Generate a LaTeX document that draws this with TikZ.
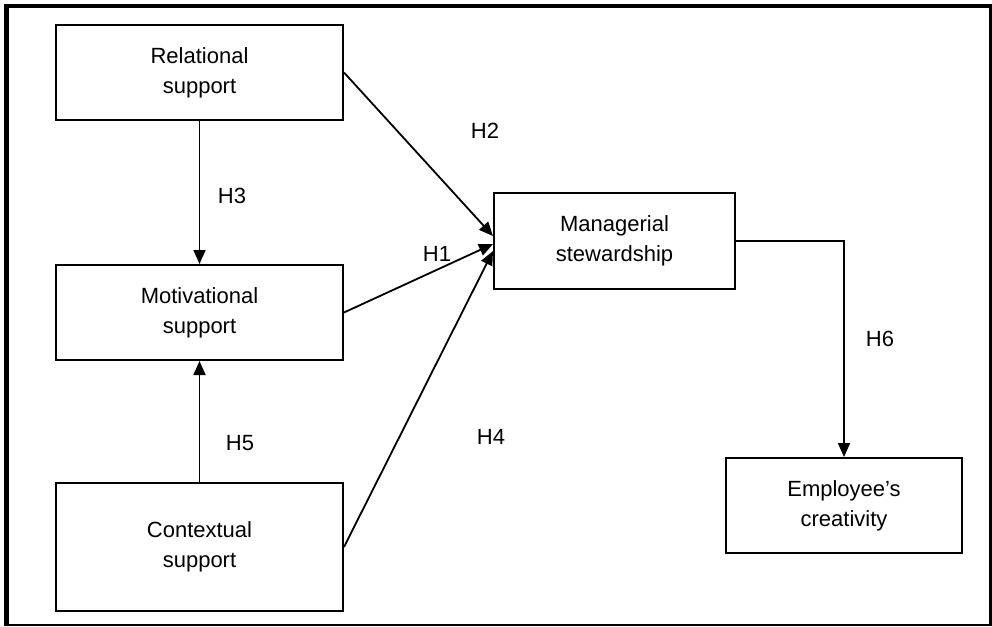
\documentclass[tikz,border=0pt]{standalone}
\usepackage{fontspec}
\setmainfont{Liberation Sans}
\usetikzlibrary{arrows.meta,calc}

\tikzset{
  factor/.style={draw, line width=2pt, align=center, inner sep=0pt,
    font=\fontsize{22}{30}\selectfont},
  hyp/.style={font=\fontsize{22}{30}\selectfont},
  link/.style={line width=1.8pt, -{Triangle[length=14pt,width=12pt]}}
}

\begin{document}
\begin{tikzpicture}[x=1pt,y=-1pt]
        \useasboundingbox (0,0) rectangle (992,626);
        % outer frame
        \fill (4,4) rectangle (992,8);
        \fill (4,4) rectangle (9,626);
        \fill (989,4) rectangle (991.5,626);
        \fill (4,623.5) rectangle (992,625.5);

        % boxes
        \node[factor, minimum width=287pt, minimum height=95pt] (rel) at (199.5,72.5) {Relational\\support};
        \node[factor, minimum width=287pt, minimum height=95pt] (mot) at (199.5,312.5) {Motivational\\support};
        \node[factor, minimum width=287pt, minimum height=128pt] (con) at (199.5,547) {Contextual\\support};
        \node[factor, minimum width=241pt, minimum height=96pt] (man) at (614.5,241) {Managerial\\stewardship};
        \node[factor, minimum width=236pt, minimum height=95pt] (emp) at (844,505.5) {Employee’s\\creativity};

        % hypotheses
        \draw[link] (rel.south) -- (mot.north);
        \draw[link] (con.north) -- (mot.south);
        \draw[link] (rel.east) -- ($(man.west)+(0,-5)$);
        \draw[link] (mot.east) -- ($(man.west)+(0,3)$);
        \draw[link] (con.east) -- ($(man.west)+(0,10)$);
        \draw[link] (man.east) -| (emp.north);

        \node[hyp] (h1) at (437,254) {H1};
        \node[hyp] (h2) at (485,131) {H2};
        \node[hyp] (h3) at (232,196) {H3};
        \node[hyp] (h4) at (491,437) {H4};
        \node[hyp] (h5) at (240,443) {H5};
        \node[hyp] (h6) at (880,339) {H6};
\end{tikzpicture}
\end{document}
